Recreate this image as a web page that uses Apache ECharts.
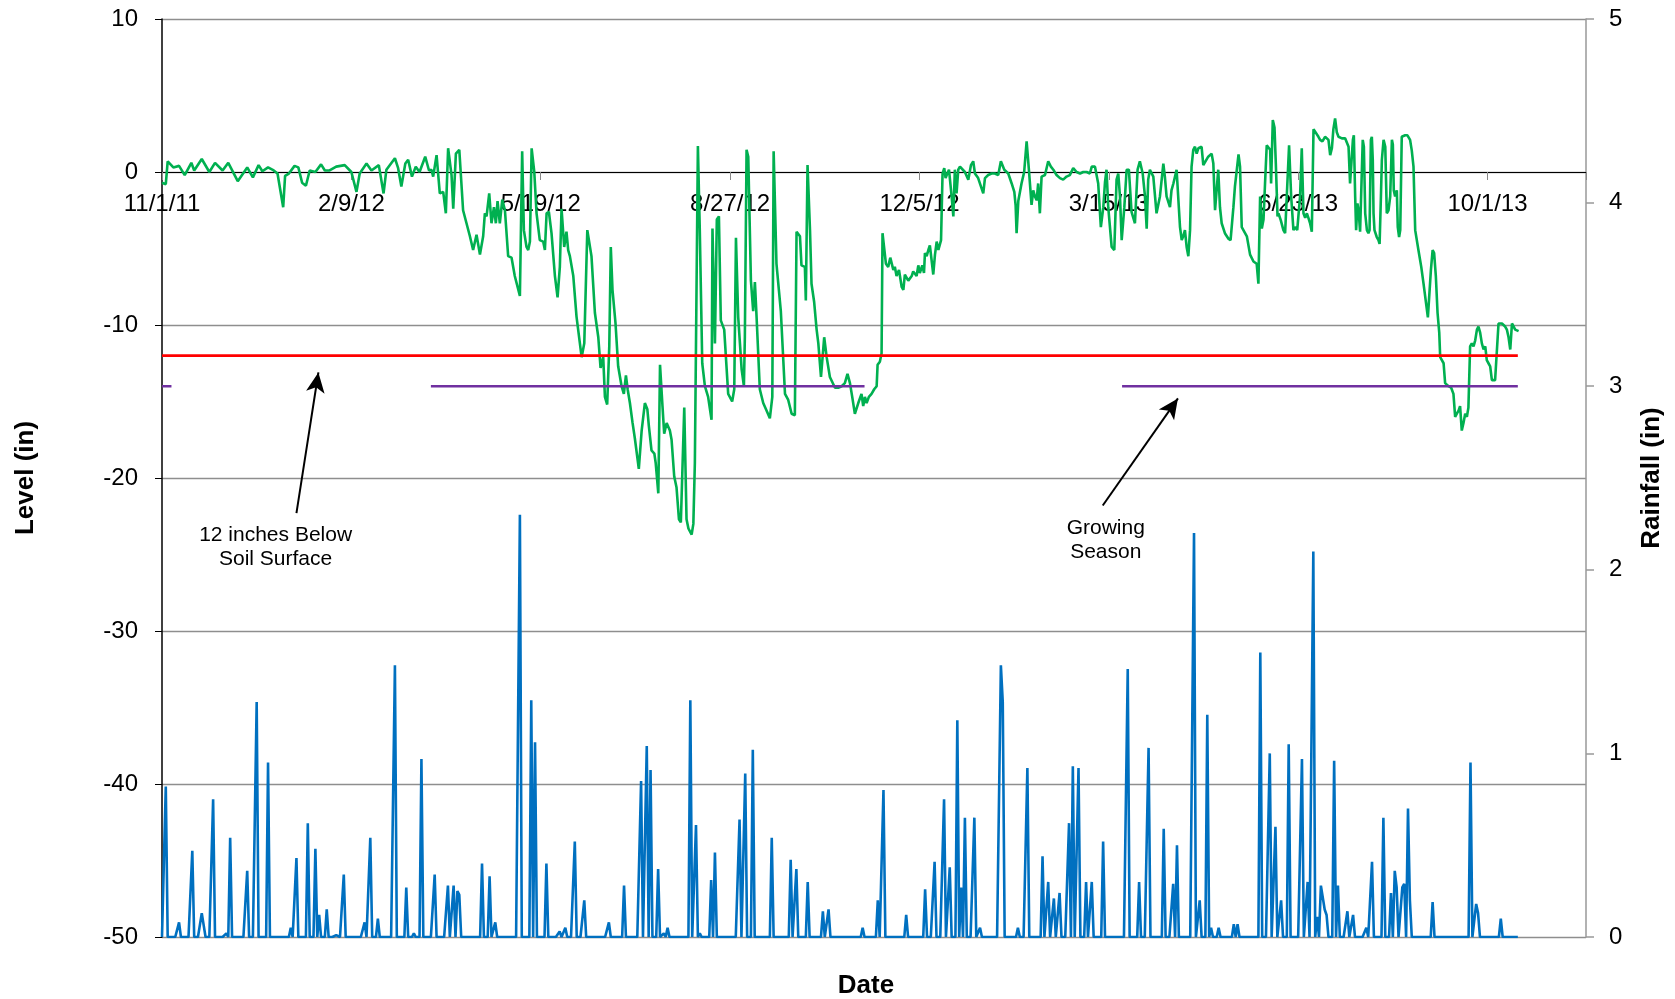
<!DOCTYPE html>
<html>
<head>
<meta charset="utf-8">
<title>Level and Rainfall</title>
<script src="https://cdn.jsdelivr.net/npm/echarts@6/dist/echarts.min.js"></script>
<style>
  html, body { margin: 0; padding: 0; background: #fff; }
  #chart { width: 1675px; height: 999px; }
</style>
</head>
<body>
<div id="chart"></div>
<script>
// x values are days counted from 11/1/11
const dateTicks = ['11/1/11', '2/9/12', '5/19/12', '8/27/12', '12/5/12', '3/15/13', '6/23/13', '10/1/13']
const lastDay = 716

// water level (in), [day, level]
const level = [
  [0,-0.7],[2,-0.8],[3,0.7],[6,0.3],[9,0.4],[12,-0.2],[15.5,0.6],[17,0.1],[21,0.85],[25,0],[28,0.6],[32,0.1],[35,0.6],[40,-0.6],[45,0.3],[48,-0.35],[51,0.45],[53,0.05],[56,0.3],[59,0.1],[61,-0.1],[64,-2.3],[65,-0.25],[67,-0.1],[70,0.4],[72,0.3],[74,-0.7],[76,-0.9],[78,0.1],[81,0],[84,0.5],[86,0.1],[88.5,0.1],[92,0.35],[96.5,0.45],[100,0],[102.7,-1.3],[104.4,-0.1],[108,0.55],[110.6,0.1],[114.5,0.45],[117,-1.4],[118.5,0.15],[123,0.9],[124.7,0.25],[126.4,-0.95],[128.5,0.55],[130,0.8],[132,-0.3],[134,0.35],[136,0],[139,1.0],[141,0.1],
  [142.3,0.15],[143.2,-0.3],[145,1.1],[146.7,-1.4],[147.6,-1.5],[148.5,-1.3],[149.9,-2.7],[151.1,1.55],[152.9,-0.2],[153.8,-2.4],[155.2,1.2],[157,1.45],[159,-2.5],[160.8,-3.35],[162.6,-4.2],[164.3,-5.1],[166.1,-4.1],[167.9,-5.4],[169.6,-4.2],[170.5,-2.7],[171.4,-2.9],[172.8,-1.4],[174,-3.35],[175.3,-2.3],[176.3,-3.35],[177.2,-1.9],[178.4,-3.35],[179.7,-1.8],[181.1,-2.5],[182.8,-5.5],[184.6,-5.6],[186.3,-6.8],[189,-8.1],[190.2,1.35],[191.1,-3.8],[192.5,-4.9],[193.4,-5.1],[194.3,-4.55],[195.2,1.55],[196.6,0],[197.8,-2.7],[199.5,-4.45],[201.3,-4.55],[202.2,-5.1],[203.1,-2.7],[204.3,-2.6],[205.7,-4.0],[207.5,-6.8],[208.9,-8.2],[210.1,-6.2],[211,-2.4],[212.4,-4.9],[213.6,-3.9],[214.5,-5.1],[215.4,-5.5],[217.2,-6.8],[218.9,-9.45],[221.6,-12.1],[223,-11.2],[224.6,-3.8],[226.8,-5.5],[228.6,-9.2],[230.4,-10.8],[231.6,-12.8],[233,-12.1],[233.9,-14.7],[235.1,-15.2],[236.2,-11.4],[237,-4.9],[237.9,-7.7],[239.5,-9.9],[240.9,-12.7],[242.7,-14.0],[243.9,-14.5],[245,-13.3],[245.9,-14.2],[247.1,-15.1],[248.5,-16.4],[249.7,-17.4],[251.8,-19.4],[253.3,-16.9],[255,-15.1],[256.3,-15.5],[257.1,-16.6],[258.5,-18.2],[260,-18.4],[260.7,-19.0],[262.1,-21],[263,-12.6],[264.3,-15.3],[265.2,-17.1],[266.5,-16.4],[267.3,-16.4],[268.2,-16.9],[269.1,-17.5],[270.5,-19.9],[271.7,-20.6],[273,-22.7],[274,-22.9],[274.7,-23],[275.8,-15.4],[277,-22.7],[278,-23.3],[278.8,-23.4],[279.7,-23.7],[280.6,-23],[281.4,-19.0],[283,1.7],
  [284,-3.8],[285.3,-12.5],[286.7,-14.0],[288.4,-14.7],[290.2,-16.2],[290.7,-3.7],[292,-11.2],[292.5,-11.2],[293,-3.1],[294.1,-2.9],[295.1,-9.7],[296.9,-10.3],[299,-14.5],[301.1,-15],[302.2,-14.2],[303.1,-4.3],[304.3,-9.5],[306.1,-12.9],[307.3,-14.0],[307.8,-10.8],[308.7,1.45],[309.6,1.0],[311,-7.1],[312.2,-9.1],[313.1,-7.2],[314,-9.5],[315.7,-14.2],[317.5,-15.1],[319.3,-15.6],[321,-16.1],[322.3,-14.7],[323,1.35],[324.5,-6.0],[326.8,-9.1],[329,-14.5],[330.7,-14.9],[332.5,-15.8],[334.2,-15.9],[335.1,-3.9],[336.9,-4.2],[337.7,-6.1],[339.5,-6.2],[340,-8.4],[340.9,0.45],[342.2,-3.8],[343,-7.3],[344.4,-8.5],[345.7,-10.3],[346.6,-11.2],[348,-13.4],[349.7,-10.8],[351,-12.1],[352.7,-13.4],[355.4,-14.1],[357.1,-14.1],[358.9,-14.0],[360.6,-13.8],[362,-13.2],[363.3,-13.8],[364.5,-14.7],[365.9,-15.8],[367.7,-15.1],[369.4,-14.5],[370.3,-15.3],[371.2,-14.7],[372.1,-15.1],[373.3,-14.7],[374.7,-14.5],[376.1,-14.2],[377.4,-14.0],[377.9,-12.6],[379.1,-12.4],[380,-11.85],[380.5,-4.0],[381.4,-4.0],[382.3,-6.0],[383.5,-6.2],[384.6,-5.6],[386.2,-6.4],[387,-6.2],[387.9,-6.8],[389.2,-6.4],[390.6,-7.5],[391.5,-7.7],[392.3,-6.7],[394.1,-7.1],[395.9,-6.8],[396.7,-6.5],[397.6,-6.4],[398.5,-6.8],[399.4,-6.1],[400.2,-6.6],[401.5,-6.1],[402.4,-6.6],[402.9,-5.3],[403.8,-5.5],[404.7,-5.1],[405.5,-4.8],[406.4,-4.7],[407.3,-6.7],[408.2,-5.4],[409.1,-4.55],[410,-5.1],[411.4,-4.45],[412.2,-0.1],[413.1,0.25],[413.8,-0.4],[414.7,-0.1],[415.6,0.15],[417,-1.6],[417.9,-2.9],[418.7,0.15],[419.6,-1.4],[420.5,0.15],[421.4,0.35],[422.3,0.25],
  [424,0],[425.8,-0.5],[427.2,0.45],[428.4,0.7],[429.3,-0.1],[431,-0.4],[431.9,-0.3],[433.7,-1.4],[434.6,-0.4],[436.3,-0.2],[438.1,-0.1],[439.8,-0.1],[441.6,-0.2],[443,0.7],[444.8,0.15],[446.9,-0.1],[448.7,-0.75],[450.1,-1.3],[450.8,-2.2],[451.3,-4.0],[452.2,-1.9],[453.9,-0.75],[455.3,0],[456.6,2.0],[457.8,0.15],[459.2,-2.15],[460.1,-1.2],[461,-1.6],[461.9,-1.85],[462.7,-0.75],[463.6,-2.7],[464.5,-0.3],[466.3,-0.2],[468,0.7],[469.4,0.35],[470.7,0.15],[472.4,-0.2],[474.2,-0.4],[475.9,-0.5],[477.7,-0.3],[479.4,-0.2],[481.2,0.25],[483,0],[484.8,-0.1],[486.5,0],[488.3,0],[490,-0.1],[491,0.35],[492.7,0.35],[494.4,-0.75],[495.8,-3.6],[497.1,-2.3],[498,-0.65],[498.8,0.15],[499.7,-2.3],[501.5,-4.9],[502.9,-5.1],[504.1,-0.5],[505,-0.1],[505.9,-1.6],[506.8,-4.45],[508.2,-2.3],[509.4,0.15],[510.6,0.15],[512,-2.6],[513.8,-3.35],[515.2,0.15],[516.4,0.7],[517.9,-0.1],[519.1,-1.6],[520,-3.7],[520.8,-0.5],[521.7,0.15],[523.5,-0.3],[525.2,-2.7],[527,-1.6],[528.8,0.55],[529.6,-0.3],[530.5,-1.6],[532.3,-2.3],[533.1,-1.2],[534.1,-0.75],[535.8,0.15],[537.6,-3.6],[538.5,-4.45],[539.3,-4.2],[540.2,-3.8],[541.1,-4.9],[542,-5.5],[542.9,-3.8],[543.7,0.35],[544.6,1.45],[545.5,1.65],[546.4,1.2],[547.3,1.55],[549,1.65],[549.9,0.45],[550.8,0.55],[552.5,1.0],[554.3,1.2],[555.2,0.55],[556.1,-2.5],[557.8,0.15],[558.7,-2.3],[559.6,-3.35],[561.3,-4.0],[563.1,-4.35],[564.3,-4.45],[565.8,-2.3],[566.6,-0.95],[568.5,1.15],
  [569.3,0.35],[570.2,-3.6],[572.9,-4.2],[574.6,-5.4],[576.4,-5.85],[578.1,-6.0],[579,-7.3],[579.9,-1.6],[580.8,-3.7],[581.7,-3.1],[582.5,-0.75],[583.4,1.75],[584.3,1.85],[585.2,1.45],[585.7,-0.75],[586.6,3.4],[587.5,2.9],[588.2,0.55],[589.1,-2.9],[589.6,-2.7],[590.8,-3.15],[592.2,-3.8],[593.1,-4.0],[594,-3.9],[595.2,1.75],[596.3,-1.6],[597.5,-3.8],[598.4,-3.6],[599.5,-3.8],[600.2,-3.9],[601,-1.6],[601.9,1.55],[602.8,-2.7],[603.7,-3.0],[604.6,-2.7],[605.4,-3.0],[606.3,-3.35],[607.2,-3.9],[608.1,2.8],[609,2.7],[610.7,2.3],[611.6,2.1],[612.8,2.0],[614.2,2.3],[616,2.1],[616.9,1.1],[617.8,1.55],[618.6,2.8],[619.5,3.5],[620.4,2.6],[621.3,2.3],[623.1,2.2],[624.8,2.2],[626.6,1.65],[627.4,-0.75],[628.3,-0.65],[628.9,2.1],[629.4,2.4],[630.1,-1.6],[630.6,-3.8],[631.3,-2.05],[631.9,-2.5],[632.7,-3.9],[633.6,-3.8],[634.1,2.1],[634.7,1.65],[635.4,-2.7],[636.3,-3.8],[637.1,-4.0],[637.7,-3.8],[638.4,2.1],[638.9,2.3],[639.4,0.8],[639.8,-2.7],[640.3,-3.8],[641.5,-4.25],[642.4,-4.45],[643,-4.7],[643.7,-1.6],[644.2,0.8],[645.1,2.1],[646,1.65],[646.8,-2.7],[647.7,-2.5],[648.6,-1.6],[649.5,2.1],[650,1.8],[650.5,-1.2],[651.2,-1.6],[652.1,-1.2],[652.6,-3.6],[653.3,-4.25],[653.9,-3.8],[654.7,2.3],[656.5,2.4],[657.7,2.4],[659.1,2.1],[660,1.4],[660.9,0.35],[661.8,-3.8],[663.5,-5.1],[665,-6.2],[666.2,-7.3],[667.1,-7.3],[668.5,-9.5],[669.2,-9.5],[670.1,-6.4],[671,-5.1],[671.8,-5.3],[672.7,-6.8],[673.6,-9.2],[674.5,-10.5],[675,-12.1],[676.8,-12.5],[677.6,-13.8],[679.4,-14.0],[680.8,-14.1],[682,-14.5],[682.9,-16.0],[683.8,-15.8],[684.7,-15.6],[685.5,-15.3],[686.4,-16.9],[687.3,-16.4],[688.2,-15.8],[689.1,-16.0],[689.9,-15.4],[690.8,-11.4],[691.7,-11.2],[692.6,-11.4],[693.5,-11.0],[694.4,-10.3],[695.2,-10.1],[696.1,-10.5],[697,-11.2],[697.9,-11.6],[698.8,-11.4],[699.6,-12.3],[700.5,-12.5],[701.4,-12.7],[702.3,-13.6],[704,-13.6],[704.9,-13.6],[705.8,-9.9],[706.7,-9.8],[707.6,-9.9],[709.3,-10.1],[710.2,-10.3],[711.1,-10.8],[712,-11.6],[712.9,-9.9],[713.8,-9.8],[714.6,-10.3],[715.5,-10.4],[716.4,-10.4]
]

// daily rainfall (in), only the rainy days: [day, inches]
const rainfall = [
  [2,0.82],[9,0.08],[16,0.47],[21,0.13],[22,0.14],[27,0.75],[34,0.02],[36,0.54],[45,0.36],[50,1.28],[56,0.95],[68,0.05],[71,0.43],[77,0.62],[81,0.48],[83,0.12],[87,0.15],[92,0.01],[96,0.34],[107,0.08],[110,0.54],[114,0.1],[118,0.01],[123,1.48],[129,0.27],[133,0.02],[137,0.97],
  [144,0.34],[151,0.28],[154,0.28],[156,0.25],[157,0.23],[169,0.4],[173,0.33],[176,0.08],[189,2.3],[195,1.29],[197,1.06],[203,0.4],[210,0.03],[213,0.05],[218,0.52],[223,0.2],[236,0.08],[244,0.28],[253,0.85],[256,1.04],[258,0.91],[262,0.37],[265,0.02],[267,0.05],[273,0.01],[279,1.29],[282,0.61],
  [284,0.02],[290,0.31],[292,0.46],[305,0.64],[308,0.89],[312,1.02],[322,0.54],[332,0.42],[335,0.37],[341,0.3],[349,0.14],[352,0.15],[370,0.05],[378,0.2],[381,0.8],[393,0.12],[403,0.26],[408,0.41],[413,0.75],[416,0.38],[420,1.18],[422,0.27],[424,0.65],
  [429,0.65],[432,0.05],[443,1.48],[444,1.28],[452,0.05],[457,0.92],[465,0.44],[468,0.3],[471,0.21],[474,0.24],[479,0.62],[481,0.93],[484,0.92],[488,0.3],[491,0.3],[497,0.52],[510,1.46],[516,0.3],[521,1.03],[529,0.59],[534,0.29],[536,0.5],[545,2.2],[548,0.2],[552,1.21],[554,0.05],[558,0.05],[566,0.07],[568,0.07],
  [580,1.55],[585,1.0],[588,0.6],[591,0.2],[595,1.05],[602,0.97],[605,0.3],[608,2.1],[610,0.11],[612,0.28],[613,0.29],[614,0.15],[615,0.12],[619,0.96],[621,0.28],[626,0.14],[629,0.12],[636,0.05],[639,0.41],[645,0.65],[649,0.24],[651,0.36],[652,0.27],[655,0.27],[656,0.29],[658,0.7],[659,0.2],[671,0.19],[691,0.95],[694,0.18],[695,0.13],[707,0.1]
]

const soilLevel = -12        // 12 inches below soil surface
const seasonLevel = -14      // where the growing season bars are drawn
const growingSeasons = [[0, 5], [142, 371], [507, 716]]

const rainDaily = []
for (let d = 0; d <= lastDay; d++) rainDaily.push([d, 0])
rainfall.forEach(([d, v]) => { rainDaily[d][1] = v })

const font = 'Liberation Sans, Arial, sans-serif'

const chart = echarts.init(document.getElementById('chart'))
chart.setOption({
  animation: false,
  textStyle: { fontFamily: font },
  grid: { left: 162, right: 89, top: 19, bottom: 62, outerBoundsMode: 'none' },
  xAxis: {
    type: 'value',
    min: 0,
    max: 752,
    interval: 100,
    // date axis sits on the zero line of the level axis
    position: 'bottom',
    offset: -765,
    z: 1,
    name: 'Date',
    nameLocation: 'middle',
    nameGap: 801,
    nameTextStyle: { fontSize: 26, fontWeight: 'bold', color: '#000', fontFamily: font, padding: [0, 16, 0, 0] },
    axisLine: { onZero: false, lineStyle: { color: '#000', width: 1.2 } },
    axisTick: { show: true, length: 8, lineStyle: { color: '#888', width: 1 } },
    axisLabel: {
      margin: 20,
      fontSize: 24,
      color: '#000',
      fontFamily: font,
      formatter: v => (v % 100 === 0 && dateTicks[v / 100]) || ''
    },
    splitLine: { show: false }
  },
  yAxis: [
    {
      type: 'value',
      min: -50,
      max: 10,
      interval: 10,
      name: 'Level (in)',
      nameLocation: 'middle',
      nameRotate: 90,
      nameGap: 123,
      nameTextStyle: { fontSize: 26, fontWeight: 'bold', color: '#000', fontFamily: font, padding: [0, 0, 0, 0] },
      axisLine: { show: true, lineStyle: { color: '#000', width: 1.5 } },
      axisTick: { show: true, length: 7, lineStyle: { color: '#000' } },
      axisLabel: { margin: 24, fontSize: 24, color: '#000', fontFamily: font },
      splitLine: { show: true, lineStyle: { color: '#8e8e8e', width: 1.3 } }
    },
    {
      type: 'value',
      min: 0,
      max: 5,
      interval: 1,
      position: 'right',
      name: 'Rainfall (in)',
      nameLocation: 'middle',
      nameRotate: 90,
      nameGap: 53,
      nameTextStyle: { fontSize: 26, fontWeight: 'bold', color: '#000', fontFamily: font },
      axisLine: { show: true, lineStyle: { color: '#999', width: 1.5 } },
      axisTick: { show: true, length: 8, lineStyle: { color: '#999', width: 1.5 } },
      axisLabel: { margin: 23, fontSize: 24, color: '#000', fontFamily: font },
      splitLine: { show: false }
    }
  ],
  series: [
    {
      name: 'Level',
      type: 'line',
      data: level,
      showSymbol: false,
      lineStyle: { color: '#00b050', width: 2.6 },
      z: 3
    },
    {
      name: '12 inches Below Soil Surface',
      type: 'line',
      data: [[0, soilLevel], [lastDay, soilLevel]],
      showSymbol: false,
      lineStyle: { color: '#ff0000', width: 2.6 },
      z: 4,
      markLine: {
        silent: true,
        symbol: ['none', 'arrow'],
        symbolSize: [14, 20],
        lineStyle: { color: '#000', width: 2, type: 'solid' },
        label: { show: false },
        data: [
          [{ coord: [71, -22.3] }, { coord: [82.6, -13.1] }],
          [{ coord: [496.8, -21.8] }, { coord: [536.5, -14.8] }]
        ]
      },
      markPoint: {
        silent: true,
        symbol: 'circle',
        symbolSize: 0,
        label: {
          show: true,
          position: 'inside',
          formatter: '{b}',
          fontSize: 21,
          lineHeight: 24,
          color: '#000',
          fontFamily: font,
          align: 'center'
        },
        data: [
          { name: '12 inches Below\nSoil Surface', coord: [60, -24.5] },
          { name: 'Growing\nSeason', coord: [498.4, -24.05] }
        ]
      }
    },
    ...growingSeasons.map(([a, b]) => ({
      name: 'Growing Season',
      type: 'line',
      data: [[a, seasonLevel], [b, seasonLevel]],
      showSymbol: false,
      lineStyle: { color: '#7030a0', width: 2.6 },
      z: 4
    })),
    {
      name: 'Rainfall',
      type: 'line',
      yAxisIndex: 1,
      data: rainDaily,
      showSymbol: false,
      lineStyle: { color: '#0070c0', width: 2.6 },
      z: 3
    }
  ]
})
</script>
</body>
</html>
